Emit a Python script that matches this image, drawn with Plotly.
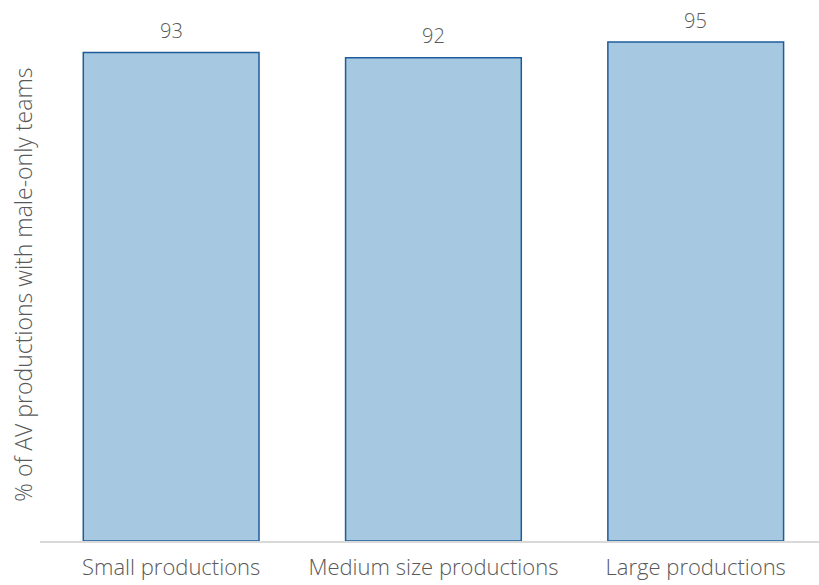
import plotly.graph_objects as go

categories = ["Small productions", "Medium size productions", "Large productions"]
values = [93, 92, 95]
y_title = "% of AV productions with male-only teams"

FONT = "Open Sans"
fig = go.Figure()
fig.add_trace(go.Bar(
    x=categories, y=values,
    marker=dict(color="#a6c9e1", line=dict(color="#1f5c9c", width=1.5)),
    width=0.67,
))
for c, v in zip(categories, values):
    fig.add_annotation(x=c, y=v, text=str(v), showarrow=False, yshift=22,
                       font=dict(family=FONT, size=20, color="#595959", weight=300))
fig.add_annotation(xref="paper", yref="paper", x=-0.023, y=0.474, text=y_title,
                   textangle=-90, showarrow=False, xanchor="center", yanchor="middle",
                   font=dict(family=FONT, size=23, color="#595959", weight=300))
fig.update_layout(
    width=819, height=585, margin=dict(l=40, r=0, t=0, b=44),
    plot_bgcolor="white", paper_bgcolor="white", showlegend=False,
    font=dict(family=FONT, color="#595959", weight=300),
    xaxis=dict(range=[-0.5, 2.47], showline=True, linecolor="#d9d9d9", linewidth=1.5,
               ticks="", ticklabelstandoff=6, automargin=False,
               tickfont=dict(family=FONT, size=22, color="#595959", weight=300)),
    yaxis=dict(range=[0, 103], showgrid=False, showticklabels=False, zeroline=False),
)
fig.write_html("out.html")
